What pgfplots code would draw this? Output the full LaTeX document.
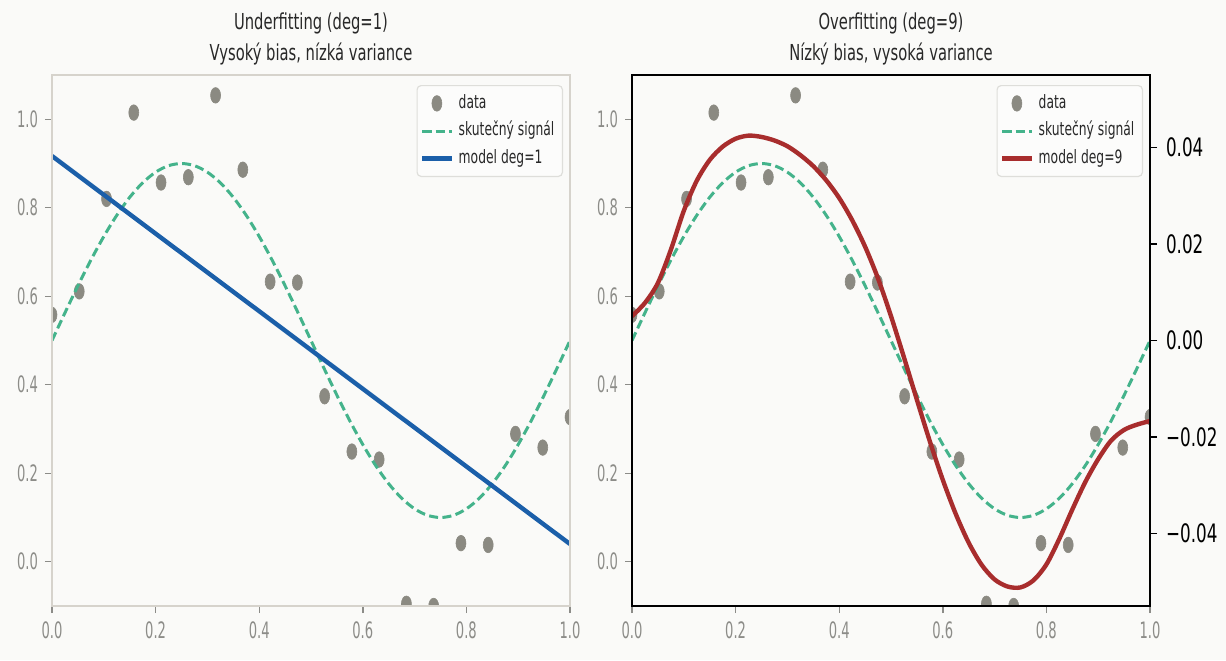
\documentclass[border=0pt]{standalone}
\usepackage{fontspec}
\setmainfont{DejaVu Sans}[FakeStretch=0.67]
\newfontfamily\tickfont{DejaVu Sans}[FakeStretch=0.58]
\newfontfamily\rtickfont{DejaVu Sans}[FakeStretch=0.66]
\usepackage{pgfplots}
\pgfplotsset{compat=1.18}
\definecolor{bgc}{RGB}{250,250,248}
\definecolor{spinegray}{RGB}{214,211,204}
\definecolor{tickgray}{RGB}{140,140,136}
\definecolor{dotgray}{RGB}{139,138,130}
\definecolor{sigcol}{RGB}{68,179,139}
\definecolor{bluecol}{RGB}{27,95,169}
\definecolor{redcol}{RGB}{168,45,45}
\definecolor{titlecol}{RGB}{40,40,40}
\definecolor{leggray}{RGB}{222,222,218}
\definecolor{legfill}{RGB}{252,252,251}

\pgfplotstableread{
x y
0.0000 0.558
0.0526 0.611
0.1053 0.820
0.1579 1.015
0.2105 0.857
0.2632 0.869
0.3158 1.054
0.3684 0.886
0.4211 0.633
0.4737 0.631
0.5263 0.374
0.5789 0.249
0.6316 0.231
0.6842 -0.095
0.7368 -0.100
0.7895 0.042
0.8421 0.038
0.8947 0.289
0.9474 0.258
1.0000 0.327
}\datatab

\pgfplotstableread{
x y
0.000 0.5000
0.025 0.5626
0.050 0.6236
0.075 0.6816
0.100 0.7351
0.125 0.7828
0.150 0.8236
0.175 0.8564
0.200 0.8804
0.225 0.8951
0.250 0.9000
0.275 0.8951
0.300 0.8804
0.325 0.8564
0.350 0.8236
0.375 0.7828
0.400 0.7351
0.425 0.6816
0.450 0.6236
0.475 0.5626
0.500 0.5000
0.525 0.4374
0.550 0.3764
0.575 0.3184
0.600 0.2649
0.625 0.2172
0.650 0.1764
0.675 0.1436
0.700 0.1196
0.725 0.1049
0.750 0.1000
0.775 0.1049
0.800 0.1196
0.825 0.1436
0.850 0.1764
0.875 0.2172
0.900 0.2649
0.925 0.3184
0.950 0.3764
0.975 0.4374
1.000 0.5000
}\sigtab

\pgfplotstableread{
x y
0 0.917
1 0.040
}\lintab

\pgfplotstableread{
x y
0.000 0.555
0.025 0.585
0.050 0.630
0.075 0.705
0.100 0.793
0.125 0.861
0.150 0.908
0.175 0.938
0.200 0.956
0.225 0.963
0.250 0.960
0.275 0.952
0.300 0.939
0.325 0.919
0.350 0.894
0.375 0.862
0.400 0.822
0.425 0.772
0.450 0.712
0.475 0.640
0.500 0.555
0.525 0.462
0.550 0.366
0.575 0.272
0.600 0.185
0.625 0.108
0.650 0.043
0.675 -0.007
0.700 -0.040
0.725 -0.056
0.750 -0.058
0.775 -0.042
0.800 -0.006
0.825 0.052
0.850 0.118
0.875 0.180
0.900 0.232
0.925 0.274
0.950 0.298
0.975 0.310
1.000 0.318
}\polytab

\begin{document}
\begin{tikzpicture}
\fill[bgc] (0,0) rectangle (613pt,330pt);
\pgfplotsset{
  common/.style={
    width=259pt, height=265.5pt, scale only axis,
    xmin=0, xmax=1, ymin=-0.1, ymax=1.1,
    xtick={0,0.2,0.4,0.6,0.8,1.0},
    xticklabels={0.0,0.2,0.4,0.6,0.8,1.0},
    ytick={0,0.2,0.4,0.6,0.8,1.0},
    yticklabels={0.0,0.2,0.4,0.6,0.8,1.0},
    xtick pos=left, ytick pos=left,
    tick align=outside, major tick length=3.5pt,
    tick style={tickgray, line width=0.7pt},
    ticklabel style={font=\tickfont\fontsize{11.3}{13}\selectfont, text=tickgray},
    xticklabel style={yshift=-1pt},
    axis background/.style={fill=bgc},
    clip marker paths=true,
    axis on top,
    legend image code/.code={\draw[mark repeat=2,mark phase=2,##1] plot coordinates {(0pt,0pt) (7.3pt,0pt) (14.6pt,0pt)};},
    legend cell align=left,
    legend style={at={(1,1)}, anchor=north east, xshift=-3.5pt, yshift=-5pt,
      draw=leggray, fill=legfill, rounded corners=2pt, line width=0.6pt,
      font=\fontsize{9.2}{11}\selectfont, text=titlecol,
      inner xsep=1.5pt, inner ysep=2pt, row sep=0pt,
      nodes={inner ysep=2.5pt, inner xsep=2.5pt, text height=6.8pt, text depth=2pt}},
    title style={align=center, font=\fontsize{11}{15.5}\selectfont, text=titlecol,
      at={(0.5,1)}, anchor=south, inner sep=0pt, yshift=-1pt},
  },
  dots/.style={dotgray, only marks, mark=*, mark size=3.9pt,
    mark options={xscale=0.64, fill=dotgray, draw=dotgray, line width=0.3pt}},
  sig/.style={sigcol, line width=1.5pt, dash pattern=on 4.5pt off 2.2pt, no marks, smooth},
}
% left panel
\begin{axis}[common, at={(26pt,27pt)}, anchor=south west,
  axis line style={spinegray, line width=0.9pt},
  title={Underfitting (deg=1)\\Vysoký bias, nízká variance}]
\addplot[dots] table[x=x,y=y] {\datatab};
\addlegendentry{data}
\addplot[sig] table[x=x,y=y] {\sigtab};
\addlegendentry{skutečný signál}
\addplot[bluecol, line width=2.2pt, no marks] table[x=x,y=y] {\lintab};
\addlegendentry{model deg=1}
\end{axis}
% right panel
\begin{axis}[common, at={(316pt,27pt)}, anchor=south west,
  axis line style={black, line width=1pt},
  title={Overfitting (deg=9)\\Nízký bias, vysoká variance}]
\addplot[dots] table[x=x,y=y] {\datatab};
\addlegendentry{data}
\addplot[sig] table[x=x,y=y] {\sigtab};
\addlegendentry{skutečný signál}
\addplot[redcol, line width=2.2pt, no marks, smooth] table[x=x,y=y] {\polytab};
\addlegendentry{model deg=9}
\end{axis}
\begin{axis}[width=259pt, height=265.5pt, scale only axis,
  at={(316pt,27pt)}, anchor=south west,
  axis x line=none, axis y line*=right,
  xmin=0, xmax=1, ymin=-0.055, ymax=0.055,
  scaled y ticks=false,
  ytick={-0.04,-0.02,0,0.02,0.04},
  yticklabels={−0.04,−0.02,0.00,0.02,0.04},
  axis line style={black, line width=1pt},
  tick align=outside, major tick length=3.5pt,
  tick style={black, line width=0.8pt},
  yticklabel style={font=\rtickfont\fontsize{12.7}{15}\selectfont, text=black, xshift=1pt}]
\addplot[draw=none, forget plot] coordinates {(0,0)};
\end{axis}
\pgfresetboundingbox
\useasboundingbox (0,0) rectangle (613pt,330pt);
\end{tikzpicture}
\end{document}
